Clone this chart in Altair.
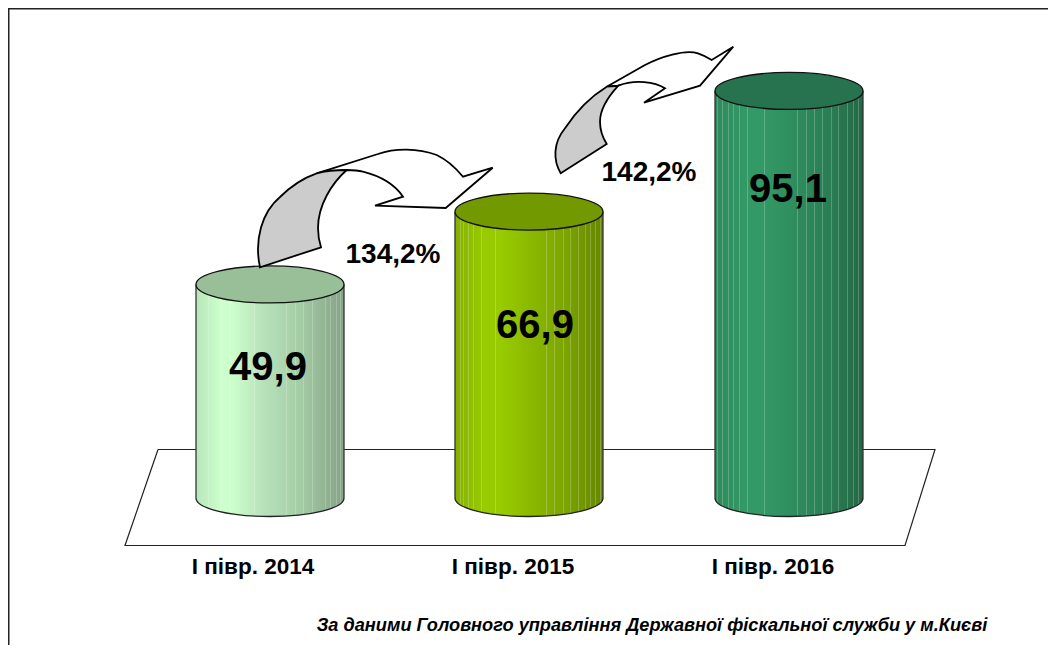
import altair as alt
import pandas as pd

# ---- chart data -----------------------------------------------------------
PERIODS = ["І півр. 2014", "І півр. 2015", "І півр. 2016"]
VALUES = [49.9, 66.9, 95.1]
VALUE_LABELS = ["49,9", "66,9", "95,1"]
GROWTH_LABELS = ["134,2%", "142,2%"]
FOOTNOTE = "За даними Головного управління Державної фіскальної служби у м.Києві"

# ---- layout, in page pixels ------------------------------------------------
CENTERS = [270, 529, 789]
HALF = 74
RY = 18.5
LABEL_X = [253, 513, 773]
LABEL_Y = 566.5
VALUE_LABEL_X = [268, 535, 788]
VALUE_LABEL_Y = [368, 326, 190]
GROWTH_X = [393, 649]
GROWTH_Y = [255, 173]
PLANE_X = [158, 935, 905, 125, 158]
PLANE_Y = [449.5, 449.5, 545.5, 545.5, 449.5]
BORDER_X = [8.75, 8.75, 1056]
BORDER_Y = [653, 8.75, 8.75]

TOPS = ["#99bf99", "#739900", "#277350"]
STOPS = [
    [("#b8e6ba", 0), ("#ccffcc", .17), ("#ccffcc", .24), ("#b8e2bb", .45), ("#a6cfa8", .68), ("#8fb090", .9), ("#84a485", 1)],
    [("#85b000", 0), ("#99cc00", .2), ("#99cc00", .3), ("#8ab800", .52), ("#7ca400", .75), ("#6b8e00", .93), ("#668800", 1)],
    [("#2e895b", 0), ("#339966", .2), ("#339966", .32), ("#2f8c5d", .55), ("#2a7d54", .78), ("#256d49", .95), ("#236845", 1)],
]
# thin lighter seams between the facets, as page x
SEAMS = [
    [208, 220, 229, 254, 286, 295, 303, 312, 325, 330, 336, 340],
    [460, 463, 468, 473, 481, 495, 546, 554, 563, 570, 578, 585, 590, 595, 600],
    [717, 722, 728, 733, 739, 747, 764, 797, 806, 814, 822, 831, 838, 847, 853, 858],
]

WHITE_ARROWS = [
    "M316.7,173.3 L378,154 C395,148 418,148 436.7,155 C445,159 455,167 463,176.7 L492.7,167.7 "
    "L445.7,208 L375,205.7 L403,196.7 C395,185 380,176 363,171.7 C357,170 352,170 346.7,170 Z",
    "M606.7,86.7 L645,65 C660,57 685,49 698,53.3 C703,55 707,57 711.7,60 L733.3,46.7 L700,85.7 "
    "L644,102.7 L665,88.3 C655,82 635,79 618.3,85.7 Z",
]
GREY_ARROWS = [
    "M260,267.3 C254,240 262,212 280,197 C290,187 303,178 316.7,173.3 C325,171 337,170 346.7,170 "
    "C332,183 318,205 318,228 C318,235 319,241 321,247.3 Z",
    "M560.7,173.3 C553,160 553,143 565,128.3 C575,113 590,97 606.7,86.7 C610,86 614,87 618.3,85.7 "
    "C607,98 600,110 600,121.7 C600,130 603,138 606.7,144 Z",
]

W, H = 1040, 637
PX_PER_UNIT = 4.28
BASE = 498

px_x = alt.Scale(domain=[8, 8 + W], range=[0, W], nice=False, zero=False)
px_y = alt.Scale(domain=[8, 8 + H], range=[0, H], nice=False, zero=False)
val_y = alt.Scale(domain=[0, (BASE - 8) / PX_PER_UNIT], range=[BASE - 8, 0], nice=False, zero=False)
X = lambda f: alt.X(f, type="quantitative", scale=px_x, axis=None)
Yp = lambda f: alt.Y(f, type="quantitative", scale=px_y, axis=None)
Yv = lambda f: alt.Y(f, type="quantitative", scale=val_y, axis=None)

k = 0.5523
ELLIPSE = (f"M{-HALF},0 C{-HALF},{-RY*k} {-HALF*k},{-RY} 0,{-RY} C{HALF*k},{-RY} {HALF},{-RY*k} {HALF},0 "
           f"C{HALF},{RY*k} {HALF*k},{RY} 0,{RY} C{-HALF*k},{RY} {-HALF},{RY*k} {-HALF},0 Z")
FRONT = f"M{-HALF},0 C{-HALF},{RY*k} {-HALF*k},{RY} 0,{RY} C{HALF*k},{RY} {HALF},{RY*k} {HALF},0"

layers = []

# border and plane
border = pd.DataFrame({"x": BORDER_X, "y": BORDER_Y, "o": range(len(BORDER_X))})
layers.append(alt.Chart(border).mark_line(color="#222222", strokeWidth=1.5, clip=False).encode(
    x=X("x"), y=Yp("y"), order="o:Q"))
plane = pd.DataFrame({"x": PLANE_X, "y": PLANE_Y, "o": range(len(PLANE_X))})
layers.append(alt.Chart(plane).mark_line(color="#222222", strokeWidth=1.2).encode(
    x=X("x"), y=Yp("y"), order="o:Q"))

# cylinders
for i, (c, v) in enumerate(zip(CENTERS, VALUES)):
    one = pd.DataFrame({"period": [PERIODS[i]], "value": [v], "base": [0], "cx": [c],
                        "x0": [c - HALF], "x1": [c + HALF]})
    grad = alt.Gradient(gradient="linear", x1=0, x2=1, y1=0, y2=0,
                        stops=[alt.GradientStop(color=col, offset=o) for col, o in STOPS[i]])
    layers.append(alt.Chart(one).mark_bar(fill=grad, stroke=None).encode(
        x=X("x0"), x2="x1", y=Yv("value"), y2="base"))
    layers.append(alt.Chart(one).mark_point(shape=ELLIPSE, size=4, fill=grad, filled=True, opacity=1, strokeWidth=0).encode(
        x=X("cx"), y=Yv("base")))
    seam_rows = []
    for s in SEAMS[i]:
        u = (s + 0.5 - c) / HALF
        drop = RY * (1 - u * u) ** 0.5
        seam_rows.append({"x": s + 0.5, "top": v, "bot": -drop / PX_PER_UNIT})
    layers.append(alt.Chart(pd.DataFrame(seam_rows)).mark_rule(color="white", opacity=0.22, strokeWidth=1).encode(
        x=X("x"), y=Yv("top"), y2="bot"))
    # outline: sides and the front edge
    sides = pd.DataFrame({"x": [c - HALF, c + HALF], "top": [v, v], "base": [0, 0]})
    layers.append(alt.Chart(sides).mark_rule(color="#333333", strokeWidth=1.3).encode(
        x=X("x"), y=Yv("top"), y2="base"))
    layers.append(alt.Chart(one).mark_point(shape=FRONT, size=4, filled=False, stroke="#222222", strokeWidth=1.3, opacity=1).encode(
        x=X("cx"), y=Yv("base")))
    layers.append(alt.Chart(one).mark_point(shape=ELLIPSE, size=4, filled=True, fill=TOPS[i], stroke="#111111", strokeWidth=1.3, opacity=1).encode(
        x=X("cx"), y=Yv("value")))

# arrows: paths are in page pixels, anchored at page origin
origin = pd.DataFrame({"x": [0], "y": [0]})
for path in WHITE_ARROWS:
    layers.append(alt.Chart(origin).mark_point(shape=path, size=4, filled=True, fill="white", stroke="black", strokeWidth=1.8, opacity=1, clip=False).encode(
        x=X("x"), y=Yp("y")))
for path in GREY_ARROWS:
    layers.append(alt.Chart(origin).mark_point(shape=path, size=4, filled=True, fill="#cccccc", stroke="black", strokeWidth=1.8, opacity=1, clip=False).encode(
        x=X("x"), y=Yp("y")))

FONT = "Liberation Sans"
def text_layer(labels, xs, ys, size, **kw):
    df = pd.DataFrame({"t": labels, "x": xs, "y": ys})
    return alt.Chart(df).mark_text(font=FONT, fontWeight="bold", fontSize=size, color="black",
                                   baseline="middle", **kw).encode(x=X("x"), y=Yp("y"), text="t:N")

layers.append(text_layer(VALUE_LABELS, VALUE_LABEL_X, VALUE_LABEL_Y, 40, align="center"))
layers.append(text_layer(GROWTH_LABELS, GROWTH_X, GROWTH_Y, 28, align="center"))
layers.append(text_layer(PERIODS, LABEL_X, [LABEL_Y] * 3, 22.5, align="center"))
layers.append(text_layer([FOOTNOTE], [652], [625.5], 18.2, align="center", fontStyle="italic"))

chart = alt.layer(*layers).resolve_scale(y="independent").properties(
    width=W, height=H, padding=0, autosize=alt.AutoSizeParams(type="none"),
    background="white",
).configure_view(stroke=None)

chart.save("out.html", embed_options={"renderer": "svg", "actions": False})
